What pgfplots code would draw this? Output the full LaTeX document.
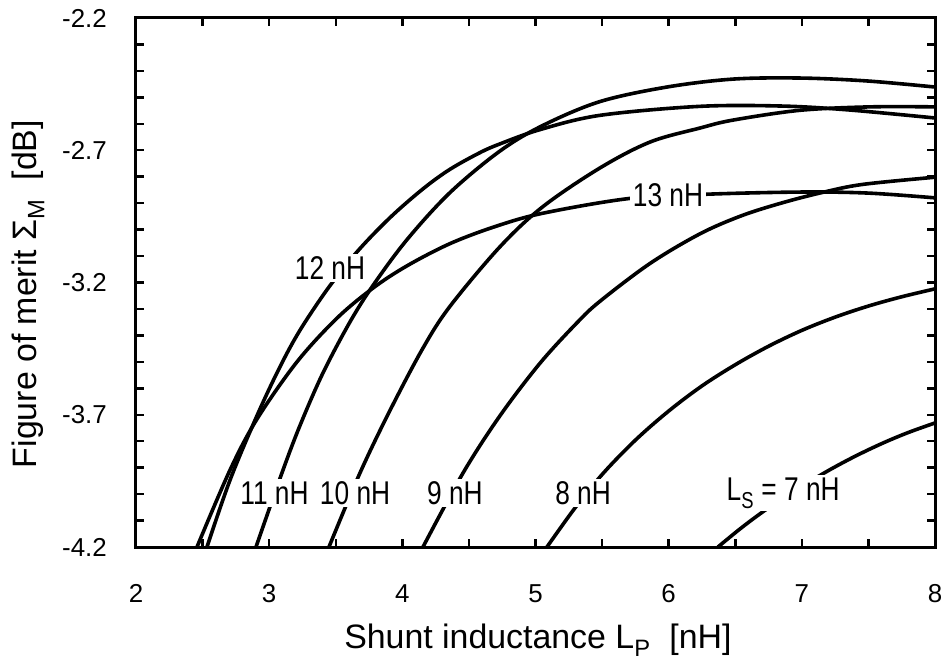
\documentclass[border=0pt]{standalone}
\usepackage{fontspec}
\setmainfont{Liberation Sans}
\newfontfamily\narrowfont[FakeStretch=0.8]{Liberation Sans}
\usepackage{pgfplots}
\pgfplotsset{compat=1.18}

\begin{document}
\begin{tikzpicture}[
  lab/.style={font=\narrowfont\fontsize{33}{33}\selectfont, fill=white, inner sep=2.5bp},
  curve/.style={black, solid, line width=3.6bp, smooth, tension=0.55, mark=none}]
\begin{axis}[
  at={(0,0)}, anchor=south west,
  scale only axis, width=799bp, height=529bp,
  xmin=2, xmax=8, ymin=-4.2, ymax=-2.2,
  xtick={2,3,4,5,6,7,8},
  xticklabels={2,3,4,5,6,7,8},
  minor xtick={2.5,3.5,4.5,5.5,6.5,7.5},
  ytick={-4.2,-3.7,-3.2,-2.7,-2.2},
  yticklabels={-4.2,-3.7,-3.2,-2.7,-2.2},
  minor ytick={-4.1,-4.0,-3.9,-3.8,-3.6,-3.5,-3.4,-3.3,-3.1,-3.0,-2.9,-2.8,-2.6,-2.5,-2.4,-2.3},
  tick align=inside,
  major tick length=8bp, minor tick length=8bp,
  every tick/.style={black, line width=2.5bp},
  axis line style={line width=3bp},
  ticklabel style={font=\fontsize{26}{26}\selectfont, inner sep=0pt},
  xticklabel style={anchor=north, yshift=-37bp},
  yticklabel style={anchor=east, xshift=-29bp},
  label style={font=\fontsize{34}{34}\selectfont},
  xlabel={Shunt inductance L\textsubscript{P}\ \ [nH]},
  ylabel={Figure of merit Σ\textsubscript{M}\ \ [dB]},
  xlabel style={at={(axis description cs:0.503,-0.176)}, anchor=center},
  ylabel style={at={(axis description cs:-0.135,0.478)}, anchor=center},
]
% LS = 13 nH
\addplot[curve] coordinates {(2.458,-4.2) (2.706,-3.909) (2.909,-3.716) (3.209,-3.500) (3.509,-3.335)
  (3.780,-3.221) (4.035,-3.137) (4.358,-3.053) (4.700,-2.988) (5.056,-2.938) (5.710,-2.882)
  (6.300,-2.866) (7.000,-2.858) (7.500,-2.862) (8.000,-2.880)};
% LS = 12 nH
\addplot[curve] coordinates {(2.533,-4.2) (2.706,-3.947) (2.909,-3.703) (3.081,-3.519) (3.232,-3.380)
  (3.442,-3.222) (3.660,-3.084) (3.907,-2.955) (4.155,-2.846) (4.358,-2.772) (4.583,-2.709)
  (4.733,-2.676) (5.034,-2.622) (5.484,-2.568) (6.235,-2.534) (6.858,-2.533) (7.362,-2.548)
  (8.000,-2.578)};
% LS = 11 nH
\addplot[curve] coordinates {(2.901,-4.2) (3.096,-3.920) (3.232,-3.740) (3.404,-3.542) (3.607,-3.349)
  (3.780,-3.211) (4.035,-3.038) (4.358,-2.860) (4.733,-2.703) (5.056,-2.606) (5.484,-2.516)
  (5.987,-2.461) (6.483,-2.431) (6.986,-2.427) (7.489,-2.438) (8.000,-2.461)};
% LS = 10 nH
\addplot[curve] coordinates {(3.449,-4.2) (3.682,-3.920) (3.907,-3.684) (4.155,-3.448) (4.358,-3.290)
  (4.733,-3.065) (5.056,-2.913) (5.484,-2.767) (5.860,-2.669) (6.235,-2.616) (6.483,-2.586)
  (6.986,-2.549) (7.512,-2.536) (8.000,-2.536)};
% LS = 9 nH
\addplot[curve] coordinates {(4.155,-4.2) (4.456,-3.920) (4.733,-3.704) (5.034,-3.505) (5.312,-3.352)
  (5.484,-3.271) (5.860,-3.128) (6.235,-3.016) (6.550,-2.947) (6.858,-2.898) (7.159,-2.859)
  (7.459,-2.829) (8.000,-2.802)};
% LS = 8 nH
\addplot[curve] coordinates {(5.086,-4.2) (5.300,-4.050) (5.507,-3.922) (5.750,-3.796) (6.000,-3.686)
  (6.250,-3.591) (6.500,-3.511) (6.750,-3.441) (7.000,-3.381) (7.250,-3.331) (7.500,-3.289)
  (7.750,-3.254) (8.000,-3.224)};
% LS = 7 nH
\addplot[curve] coordinates {(6.370,-4.2) (6.550,-4.126) (6.738,-4.056) (6.950,-3.986) (7.189,-3.914)
  (7.400,-3.857) (7.609,-3.807) (7.800,-3.767) (8.000,-3.731)};

\node[lab] at (axis cs:3.04,-3.996) {11 nH};
\node[lab] at (axis cs:3.645,-3.996) {10 nH};
\node[lab] at (axis cs:4.395,-3.996) {9 nH};
\node[lab] at (axis cs:5.357,-3.996) {8 nH};
\node[lab] at (axis cs:6.86,-3.996) {L\textsubscript{S} = 7 nH};
\node[lab] at (axis cs:3.457,-3.145) {12 nH};
\node[lab] at (axis cs:5.995,-2.869) {13 nH};
\end{axis}
\pgfresetboundingbox
\path[use as bounding box] (-136bp,-119bp) rectangle (810bp,547bp);
\end{tikzpicture}
\end{document}
